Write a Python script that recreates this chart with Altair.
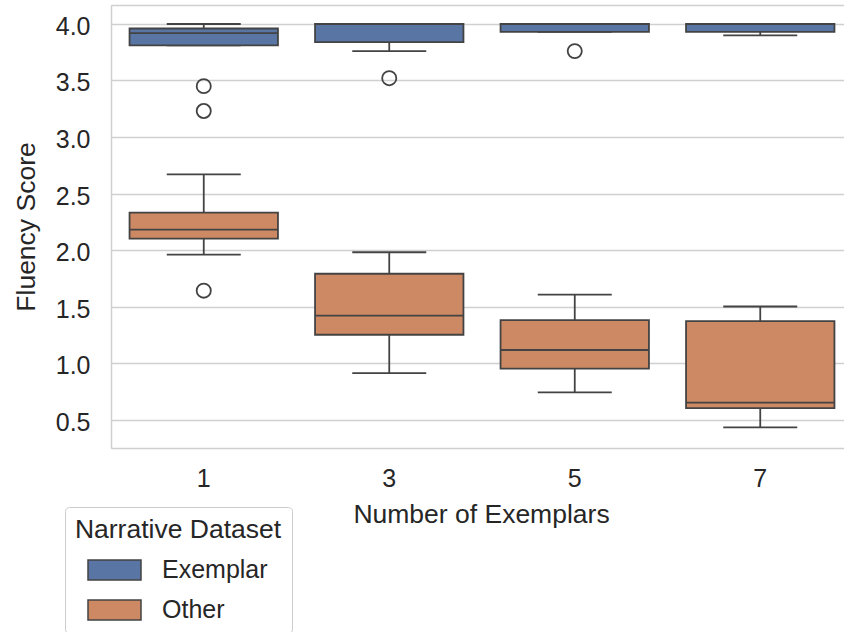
import altair as alt
import pandas as pd

# ---- data ----
groups = ["1", "3", "5", "7"]
datasets = ["Exemplar", "Other"]

ex_lo = [3.81, 3.76, 3.93, 3.90]
ex_q1 = [3.81, 3.84, 3.93, 3.93]
ex_med = [3.92, 4.00, 4.00, 4.00]
ex_q3 = [3.96, 4.00, 4.00, 4.00]
ex_hi = [4.00, 4.00, 4.00, 4.00]

ot_lo = [1.96, 0.91, 0.74, 0.43]
ot_q1 = [2.10, 1.25, 0.95, 0.60]
ot_med = [2.18, 1.42, 1.115, 0.65]
ot_q3 = [2.33, 1.79, 1.38, 1.37]
ot_hi = [2.67, 1.98, 1.605, 1.50]

out_group = ["1", "1", "3", "5", "1"]
out_dataset = ["Exemplar", "Exemplar", "Exemplar", "Exemplar", "Other"]
out_value = [3.45, 3.23, 3.52, 3.76, 1.64]

y_ticks = [0.5, 1.0, 1.5, 2.0, 2.5, 3.0, 3.5, 4.0]
y_min, y_max = 0.248, 4.168

# ---- tables ----
rows = []
for i, g in enumerate(groups):
    rows.append(dict(n=g, dataset="Exemplar", lo=ex_lo[i], q1=ex_q1[i], med=ex_med[i], q3=ex_q3[i], hi=ex_hi[i]))
    rows.append(dict(n=g, dataset="Other", lo=ot_lo[i], q1=ot_q1[i], med=ot_med[i], q3=ot_q3[i], hi=ot_hi[i]))
df = pd.DataFrame(rows)
df_out = pd.DataFrame(dict(n=out_group, dataset=out_dataset, v=out_value))

LC = "#434343"
TXT = "#262626"
GRID = "#d0d0d0"
LW = 1.8
FONT = "Liberation Sans"

xaxis = alt.Axis(
    title="Number of Exemplars", labelAngle=0, ticks=False, tickSize=0, domain=True,
    domainColor=GRID, domainWidth=1.5, grid=False,
    labelFontSize=25, labelColor=TXT, labelFont=FONT, labelBaseline="alphabetic", labelPadding=38,
    titleFontSize=26.5, titleColor=TXT, titleFont=FONT, titleFontWeight="normal",
    titleX=370, titleY=74, titleBaseline="alphabetic", titleAlign="center",
)
yaxis = alt.Axis(
    title="Fluency Score", values=y_ticks + [y_max],
    labelExpr="datum.value > 4.1 ? '' : format(datum.value, '.1f')",
    ticks=False, tickSize=0, domain=True, domainColor=GRID, domainWidth=1.5,
    grid=True, gridColor=GRID, gridWidth=1.5,
    labelFontSize=25, labelColor=TXT, labelFont=FONT, labelPadding=21,
    labelBaseline="alphabetic", labelOffset=10.5,
    titleFontSize=26.5, titleColor=TXT, titleFont=FONT, titleFontWeight="normal",
    titleX=-77, titleY=221.5, titleAngle=270, titleBaseline="alphabetic", titleAlign="center",
)

xscale = alt.Scale(domain=groups, range=[0, 742], paddingInner=0, paddingOuter=0)
yscale = alt.Scale(domain=[y_min, y_max], nice=False, zero=False)


def X():
    return alt.X("n:N", sort=groups, scale=xscale, axis=xaxis)


def Y(field):
    return alt.Y(field, type="quantitative", scale=yscale, axis=yaxis)


base = alt.Chart(df)

whisk_hi = base.mark_rule(color=LC, strokeWidth=LW).encode(x=X(), y=Y("q3"), y2="hi:Q")
whisk_lo = base.mark_rule(color=LC, strokeWidth=LW).encode(x=X(), y=Y("lo"), y2="q1:Q")
cap_hi = base.mark_tick(color=LC, size=74, thickness=LW, opacity=1).encode(x=X(), y=Y("hi"))
cap_lo = base.mark_tick(color=LC, size=74, thickness=LW, opacity=1).encode(x=X(), y=Y("lo"))

legend = alt.Legend(
    title="Narrative Dataset", orient="none", legendX=-46, legendY=502,
    titleFontSize=26.5, titleFont=FONT, titleColor=TXT, titleFontWeight="normal",
    titleAnchor="middle", titlePadding=14, titleLimit=500,
    labelFontSize=25, labelFont=FONT, labelColor=TXT, labelOffset=49, labelLimit=300,
    symbolType="M-1.25,-1H4.05V1H-1.25Z", symbolSize=400,
    symbolStrokeColor=LC, symbolStrokeWidth=1.5, symbolOpacity=1,
    rowPadding=13, padding=10, fillColor="white", strokeColor="#cccccc", cornerRadius=4,
)

boxes = base.mark_bar(stroke=LC, strokeWidth=LW, opacity=1, width=alt.RelativeBandSize(0.8)).encode(
    x=X(), y=Y("q1"), y2="q3:Q",
    fill=alt.Fill("dataset:N", scale=alt.Scale(domain=datasets, range=["#5975a4", "#cc8963"]), legend=legend),
)
medians = base.mark_tick(color=LC, size=148.4, thickness=LW, opacity=1).encode(x=X(), y=Y("med"))

outliers = alt.Chart(df_out).mark_point(shape="circle", filled=False, size=200, color=LC,
                                        strokeWidth=LW, opacity=1).encode(x=X(), y=Y("v"))

chart = alt.layer(whisk_hi, whisk_lo, cap_hi, cap_lo, boxes, medians, outliers).properties(
    width=733, height=443,
    autosize=alt.AutoSizeParams(type="none"),
    padding={"left": 111, "top": 5, "right": 0, "bottom": 184},
    background="white",
).configure_view(stroke=None).configure(font=FONT)

chart.save("out.html", embed_options={"renderer": "svg", "actions": False})
